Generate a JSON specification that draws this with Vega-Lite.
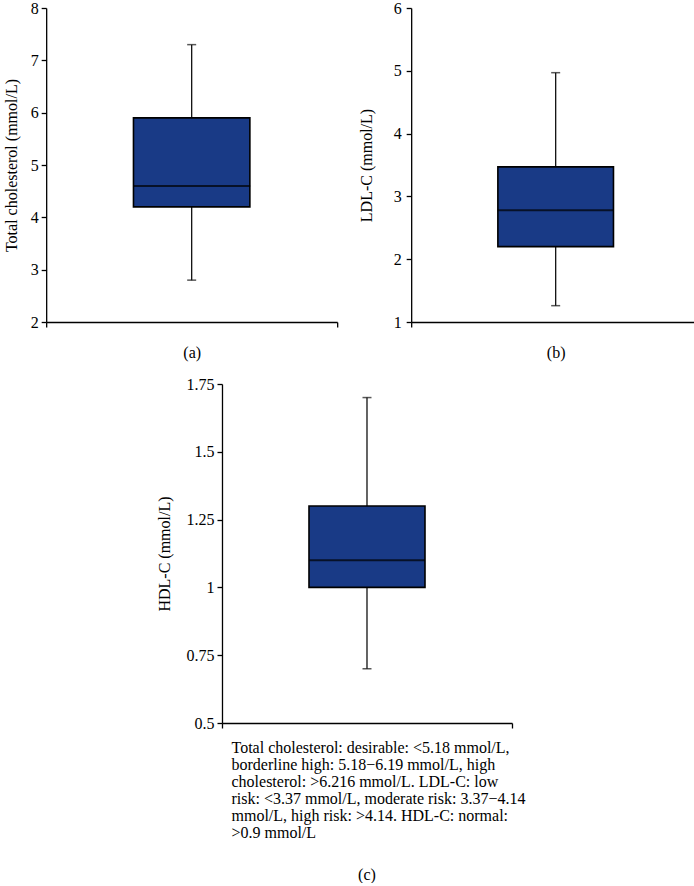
{
  "$schema": "https://vega.github.io/schema/vega-lite/v6.json",
  "padding": {"left": 3, "top": 0, "right": 0, "bottom": 0},
  "background": "white",
  "datasets": {
    "stats": [
      {"panel": "a", "lo": 2.8, "q1": 4.2, "med": 4.6, "q3": 5.9, "hi": 7.3},
      {"panel": "b", "lo": 1.26, "q1": 2.2, "med": 2.78, "q3": 3.47, "hi": 4.97},
      {"panel": "c", "lo": 0.7, "q1": 1.0, "med": 1.1, "q3": 1.3, "hi": 1.7}
    ]
  },
  "config": {
    "view": {"stroke": null},
    "font": "Liberation Serif",
    "axis": {
      "labelFont": "Liberation Serif", "titleFont": "Liberation Serif",
      "labelFontSize": 16, "titleFontSize": 16, "titleFontWeight": "normal",
      "labelColor": "black", "titleColor": "black",
      "domainColor": "black", "tickColor": "black",
      "domainWidth": 1.3, "tickWidth": 1.3, "tickSize": 5,
      "labelPadding": 3, "grid": false
    },
    "axisY": {"titlePadding": 11, "labelExpr": "'' + datum.value"},
    "title": {"font": "Liberation Serif", "fontSize": 16, "fontWeight": "normal", "color": "black"}
  },
  "spacing": 15,
  "center": true,
  "vconcat": [
    {
      "spacing": 20,
      "hconcat": [
        {
          "width": 291, "height": 314,
          "data": {"name": "stats"},
          "transform": [{"filter": "datum.panel === 'a'"}],
          "encoding": {
            "x": {"field": "panel", "type": "nominal", "scale": {"paddingInner": 0, "paddingOuter": 0},
                  "axis": {"title": "(a)", "labels": false, "tickBand": "extent", "titlePadding": 17}}
          },
          "layer": [
            {"mark": {"type": "rule", "color": "#111", "strokeWidth": 1.3},
             "encoding": {"y": {"field": "lo", "type": "quantitative", "scale": {"domain": [2, 8], "nice": false, "zero": false},
                                "axis": {"title": "Total cholesterol (mmol/L)", "values": [2, 3, 4, 5, 6, 7, 8]}},
                          "y2": {"field": "hi"}}},
            {"mark": {"type": "bar", "width": {"band": 0.4}, "fill": "#193a86", "stroke": "black", "strokeWidth": 1.6},
             "encoding": {"y": {"field": "q1", "type": "quantitative"}, "y2": {"field": "q3"}}},
            {"mark": {"type": "tick", "color": "black", "size": 117, "thickness": 2},
             "encoding": {"y": {"field": "med", "type": "quantitative"}}},
            {"mark": {"type": "tick", "color": "#111", "size": 9, "thickness": 1.5},
             "encoding": {"y": {"field": "lo", "type": "quantitative"}}},
            {"mark": {"type": "tick", "color": "#111", "size": 9, "thickness": 1.5},
             "encoding": {"y": {"field": "hi", "type": "quantitative"}}}
          ]
        },
        {
          "width": 289, "height": 314,
          "data": {"name": "stats"},
          "transform": [{"filter": "datum.panel === 'b'"}],
          "encoding": {
            "x": {"field": "panel", "type": "nominal", "scale": {"paddingInner": 0, "paddingOuter": 0},
                  "axis": {"title": "(b)", "labels": false, "tickBand": "extent", "titlePadding": 17}}
          },
          "layer": [
            {"mark": {"type": "rule", "color": "#111", "strokeWidth": 1.3},
             "encoding": {"y": {"field": "lo", "type": "quantitative", "scale": {"domain": [1, 6], "nice": false, "zero": false},
                                "axis": {"title": "LDL-C (mmol/L)", "values": [1, 2, 3, 4, 5, 6], "labelPadding": 5, "titlePadding": 19}},
                          "y2": {"field": "hi"}}},
            {"mark": {"type": "bar", "width": {"band": 0.4}, "fill": "#193a86", "stroke": "black", "strokeWidth": 1.6},
             "encoding": {"y": {"field": "q1", "type": "quantitative"}, "y2": {"field": "q3"}}},
            {"mark": {"type": "tick", "color": "black", "size": 116, "thickness": 2},
             "encoding": {"y": {"field": "med", "type": "quantitative"}}},
            {"mark": {"type": "tick", "color": "#111", "size": 9, "thickness": 1.5},
             "encoding": {"y": {"field": "lo", "type": "quantitative"}}},
            {"mark": {"type": "tick", "color": "#111", "size": 9, "thickness": 1.5},
             "encoding": {"y": {"field": "hi", "type": "quantitative"}}}
          ]
        }
      ]
    },
    {
      "width": 290, "height": 339,
      "data": {"name": "stats"},
      "transform": [{"filter": "datum.panel === 'c'"}],
      "title": {"text": "(c)", "orient": "bottom", "offset": 26},
      "encoding": {
        "x": {"field": "panel", "type": "nominal", "scale": {"paddingInner": 0, "paddingOuter": 0},
              "axis": {"title": [
                "Total cholesterol: desirable: <5.18 mmol/L,",
                "borderline high: 5.18−6.19 mmol/L, high",
                "cholesterol: >6.216 mmol/L. LDL-C: low",
                "risk: <3.37 mmol/L, moderate risk: 3.37−4.14",
                "mmol/L, high risk: >4.14. HDL-C: normal:",
                ">0.9 mmol/L"],
                "labels": false, "tickBand": "extent", "titlePadding": 11,
                "titleAlign": "left", "titleAnchor": "start", "titleX": 9, "titleLineHeight": 17}}
      },
      "layer": [
        {"mark": {"type": "rule", "color": "#111", "strokeWidth": 1.3},
         "encoding": {"y": {"field": "lo", "type": "quantitative", "scale": {"domain": [0.5, 1.75], "nice": false, "zero": false},
                            "axis": {"title": "HDL-C (mmol/L)", "values": [0.5, 0.75, 1, 1.25, 1.5, 1.75], "titlePadding": 13}},
                      "y2": {"field": "hi"}}},
        {"mark": {"type": "bar", "width": {"band": 0.4}, "fill": "#193a86", "stroke": "black", "strokeWidth": 1.6},
         "encoding": {"y": {"field": "q1", "type": "quantitative"}, "y2": {"field": "q3"}}},
        {"mark": {"type": "tick", "color": "black", "size": 116, "thickness": 2},
         "encoding": {"y": {"field": "med", "type": "quantitative"}}},
        {"mark": {"type": "tick", "color": "#111", "size": 9, "thickness": 1.5},
         "encoding": {"y": {"field": "lo", "type": "quantitative"}}},
        {"mark": {"type": "tick", "color": "#111", "size": 9, "thickness": 1.5},
         "encoding": {"y": {"field": "hi", "type": "quantitative"}}}
      ]
    }
  ]
}
